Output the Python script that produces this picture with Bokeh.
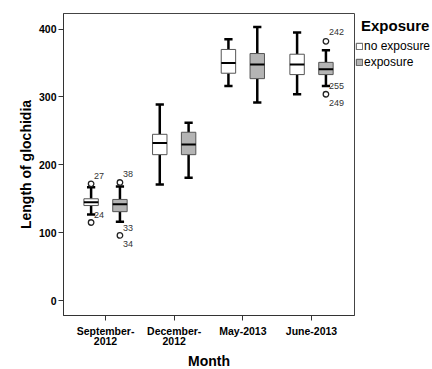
from bokeh.plotting import figure
from bokeh.models import ColumnDataSource, Legend, LegendItem, FixedTicker, Range1d
from bokeh.core.properties import value
from bokeh.embed import file_html
from bokeh.resources import INLINE

months = ["September-\n2012", "December-\n2012", "May-2013", "June-2013"]
groups = ["no exposure", "exposure"]
legend_title = "Exposure"
y_ticks = [0, 100, 200, 300, 400]

# box statistics per month: lower whisker, Q1, median, Q3, upper whisker
noexp_low = [127, 171, 316, 304]
noexp_q1 = [140, 215, 335, 333]
noexp_med = [145, 232, 350, 348]
noexp_q3 = [150, 245, 370, 363]
noexp_high = [167, 289, 385, 395]

exp_low = [116, 181, 292, 316]
exp_q1 = [131, 215, 327, 333]
exp_med = [142, 230, 348, 341]
exp_q3 = [149, 248, 364, 351]
exp_high = [168, 262, 403, 369]

# outliers: month index, group index, value
out_month = [0, 0, 0, 0, 3, 3]
out_group = [0, 0, 1, 1, 1, 1]
out_value = [172, 115, 174, 96, 382, 304]

# case labels
lab_text = ["27", "24", "38", "33", "34", "242", "255", "249"]
lab_month = [0, 0, 0, 0, 0, 3, 3, 3]
lab_group = [0, 0, 1, 1, 1, 1, 1, 1]
lab_value = [172, 127, 174, 116, 96, 382, 316, 304]

FONT = "Liberation Sans"
OFF = 0.21
BW = 0.21
CAP = 0.06
lab_dy = {"27": -8, "24": 1, "38": -8, "33": 6, "34": 9, "242": -9, "255": 0, "249": 9}

p = figure(width=432, height=369, frame_width=291, frame_height=302,
           output_backend="svg", toolbar_location=None,
           x_range=Range1d(0.388, 4.626), y_range=Range1d(-22, 423),
           min_border_left=63, min_border_right=78, min_border_top=13, min_border_bottom=54)
p.grid.visible = False
p.outline_line_color = "#444444"
p.outline_line_width = 1
p.background_fill_color = "white"
p.border_fill_color = "white"

def pos(m, g):
    return m + 1 + (-OFF if g == 0 else OFF)

renderers = []
for g, (lo, q1, md, q3, hi, fill) in enumerate([
        (noexp_low, noexp_q1, noexp_med, noexp_q3, noexp_high, "white"),
        (exp_low, exp_q1, exp_med, exp_q3, exp_high, "#b4b4b4")]):
    xs = [pos(m, g) for m in range(len(months))]
    src = ColumnDataSource(dict(x=xs, lo=lo, q1=q1, md=md, q3=q3, hi=hi,
                                xl=[x - BW / 2 for x in xs], xr=[x + BW / 2 for x in xs],
                                cl=[x - CAP for x in xs], cr=[x + CAP for x in xs]))
    p.segment(x0="x", y0="q3", x1="x", y1="hi", source=src, line_color="black", line_width=2.5)
    p.segment(x0="x", y0="q1", x1="x", y1="lo", source=src, line_color="black", line_width=2.5)
    p.segment(x0="cl", y0="hi", x1="cr", y1="hi", source=src, line_color="black", line_width=2.5)
    p.segment(x0="cl", y0="lo", x1="cr", y1="lo", source=src, line_color="black", line_width=2.5)
    r = p.vbar(x="x", width=BW, bottom="q1", top="q3", source=src, fill_color=fill,
               line_color="#555555", line_width=1)
    p.segment(x0="xl", y0="md", x1="xr", y1="md", source=src, line_color="black", line_width=2)
    renderers.append(r)

osrc = ColumnDataSource(dict(x=[pos(m, g) for m, g in zip(out_month, out_group)], y=out_value))
p.scatter(x="x", y="y", source=osrc, marker="circle", size=5.5, fill_color="white",
          line_color="#222222", line_width=1.3)

lsrc = ColumnDataSource(dict(x=[pos(m, g) for m, g in zip(lab_month, lab_group)], y=lab_value,
                             t=lab_text, dy=[lab_dy[t] for t in lab_text]))
p.text(x="x", y="y", text="t", source=lsrc, x_offset=3, y_offset="dy",
       text_font=value(FONT), text_font_size="9px", text_color="#333333",
       text_baseline="middle", text_align="left")

# axes
p.xaxis.ticker = FixedTicker(ticks=[1, 2, 3, 4])
p.xaxis.major_label_overrides = {i + 1: m for i, m in enumerate(months)}
p.yaxis.ticker = FixedTicker(ticks=y_ticks)
for ax in (p.xaxis[0], p.yaxis[0]):
    ax.axis_line_color = "#333333"
    ax.major_tick_line_color = "#333333"
    ax.major_tick_out = 5
    ax.major_tick_in = 0
    ax.minor_tick_line_color = None
    ax.major_label_text_font = FONT
    ax.major_label_text_font_style = "bold"
    ax.major_label_text_font_size = "10.5px"
    ax.major_label_text_color = "black"
    ax.major_label_text_line_height = 0.85
    ax.axis_label_text_font = FONT
    ax.axis_label_text_font_style = "bold"
    ax.axis_label_text_font_size = "14px"
    ax.axis_label_text_color = "black"
p.xaxis.axis_label = "Month"
p.yaxis.axis_label = "Length of glochidia"
p.xaxis.major_label_standoff = 4
p.yaxis.major_label_standoff = 2
p.xaxis.axis_label_standoff = 3
p.yaxis.axis_label_standoff = 2

legend = Legend(items=[LegendItem(label=groups[0], renderers=[renderers[0]]),
                       LegendItem(label=groups[1], renderers=[renderers[1]])],
                location=(1, 245), margin=0, padding=0, spacing=0,
                glyph_width=8, glyph_height=8, label_standoff=1, label_height=16,
                label_text_font=FONT, label_text_font_size="12px", label_text_color="black",
                border_line_color=None, background_fill_color=None,
                title="\u2009\u2009" + legend_title, title_text_font=FONT,
                title_text_font_style="bold", title_text_font_size="15px",
                title_text_color="black", title_standoff=4)
p.add_layout(legend, "right")

open("out.html", "w").write(file_html(p, INLINE))
